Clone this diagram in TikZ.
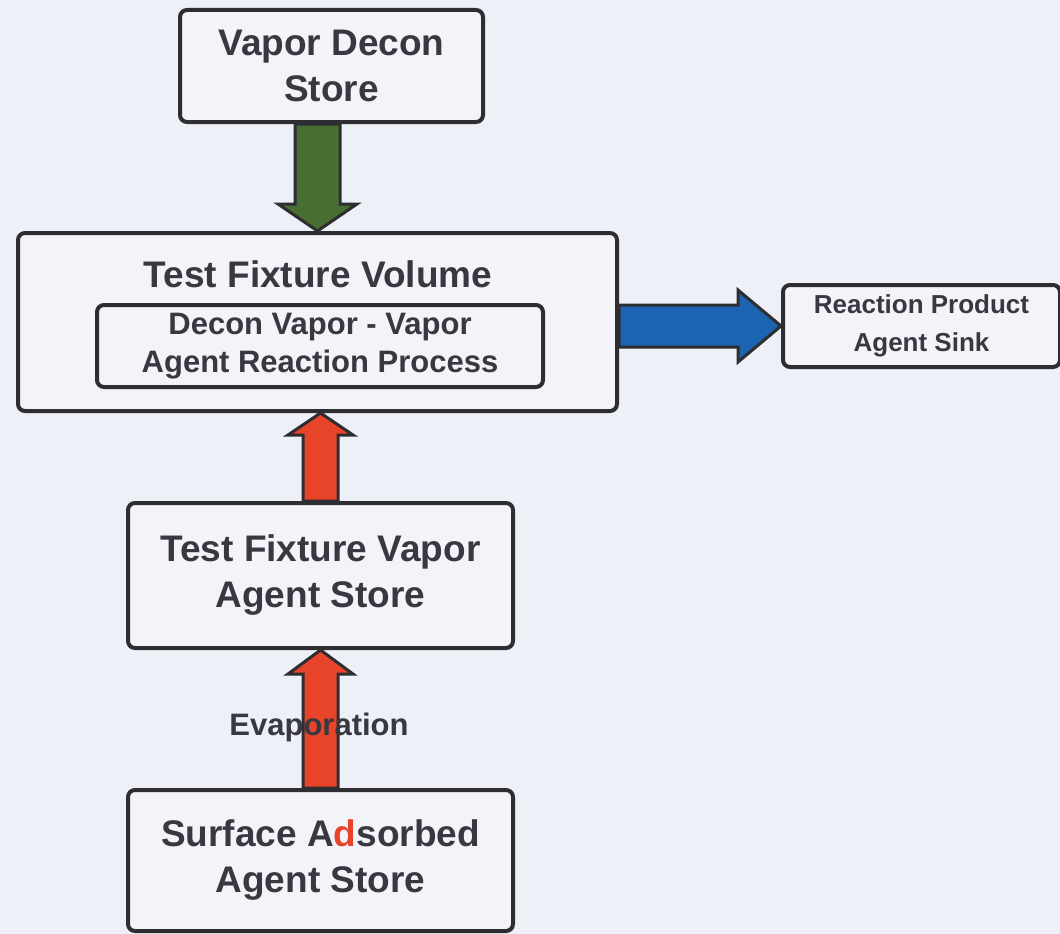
\documentclass[tikz,border=0pt]{standalone}
\usepackage{fontspec}
\setmainfont{Liberation Sans}
\usetikzlibrary{calc}
\definecolor{bgcol}{RGB}{238,240,247}
\definecolor{boxcol}{RGB}{243,244,250}
\definecolor{linecol}{RGB}{45,45,50}
\definecolor{txtcol}{RGB}{55,56,64}
\definecolor{dgreen}{RGB}{72,110,50}
\definecolor{dblue}{RGB}{28,100,178}
\definecolor{dred}{RGB}{232,68,42}

\begin{document}
\begin{tikzpicture}[x=1pt,y=-1pt,
  box/.style={rectangle,draw=linecol,line width=4pt,rounded corners=7pt,fill=boxcol,text=txtcol,inner sep=0pt,align=center},
  big/.style={font=\fontsize{37}{46}\selectfont\bfseries},
  mid/.style={font=\fontsize{31}{38}\selectfont\bfseries},
  small/.style={font=\fontsize{26}{38}\selectfont\bfseries},
  flow/.style={draw=linecol,line width=3pt,line join=miter}]
\fill[bgcol] (0,0) rectangle (1060,934);
\useasboundingbox (0,0) rectangle (1060,934);
% stores
\node[box,big,minimum width=303pt,minimum height=112pt] (decon) at (331.5,66) {Vapor Decon\\Store};
\node[box,minimum width=599pt,minimum height=178pt] (volume) at (317.5,322) {};
\node[big,text=txtcol] (title) at (318,274) {Test Fixture Volume};
\node[box,mid,minimum width=446pt,minimum height=82pt] (process) at (320,346) {Decon Vapor - Vapor\\Agent Reaction Process};
\node[box,small,minimum width=277pt,minimum height=82pt] (sink) at (921.5,326) {Reaction Product\\Agent Sink};
\node[box,big,minimum width=385pt,minimum height=145pt] (vapor) at (320.5,575.5) {Test Fixture Vapor\\Agent Store};
\node[box,big,minimum width=385pt,minimum height=141pt] (surface) at (320.5,860.5) {Surface A{\color{dred}d}sorbed\\Agent Store};
% flows
\draw[flow,fill=dgreen] let \p1=(decon.south), \p2=(volume.north) in
  (\x2-22.5,\y1) -- (\x2+22.5,\y1) -- (\x2+22.5,\y2+27) -- (\x2+39.5,\y2+27) -- (\x2,\y2) -- (\x2-39.5,\y2+27) -- (\x2-22.5,\y2+27) -- cycle;
\draw[flow,fill=dred] let \p1=(vapor.north), \p2=(volume.south) in
  (\x1-17.5,\y1) -- (\x1+17.5,\y1) -- (\x1+17.5,\y2-22) -- (\x1+32.5,\y2-22) -- (\x1,\y2) -- (\x1-32.5,\y2-22) -- (\x1-17.5,\y2-22) -- cycle;
\draw[flow,fill=dred] let \p1=(surface.north), \p2=(vapor.south) in
  (\x1-17.5,\y1) -- (\x1+17.5,\y1) -- (\x1+17.5,\y2-24) -- (\x1+32.5,\y2-24) -- (\x1,\y2) -- (\x1-32.5,\y2-24) -- (\x1-17.5,\y2-24) -- cycle;
\draw[flow,fill=dblue] let \p1=(volume.east), \p2=(sink.west) in
  (\x1,\y2+21) -- (\x2-43,\y2+21) -- (\x2-43,\y2+36) -- (\x2,\y2) -- (\x2-43,\y2-36) -- (\x2-43,\y2-21) -- (\x1,\y2-21) -- cycle;
\node[mid,text=txtcol] (evap) at (319,727) {Evaporation};
\end{tikzpicture}
\end{document}
